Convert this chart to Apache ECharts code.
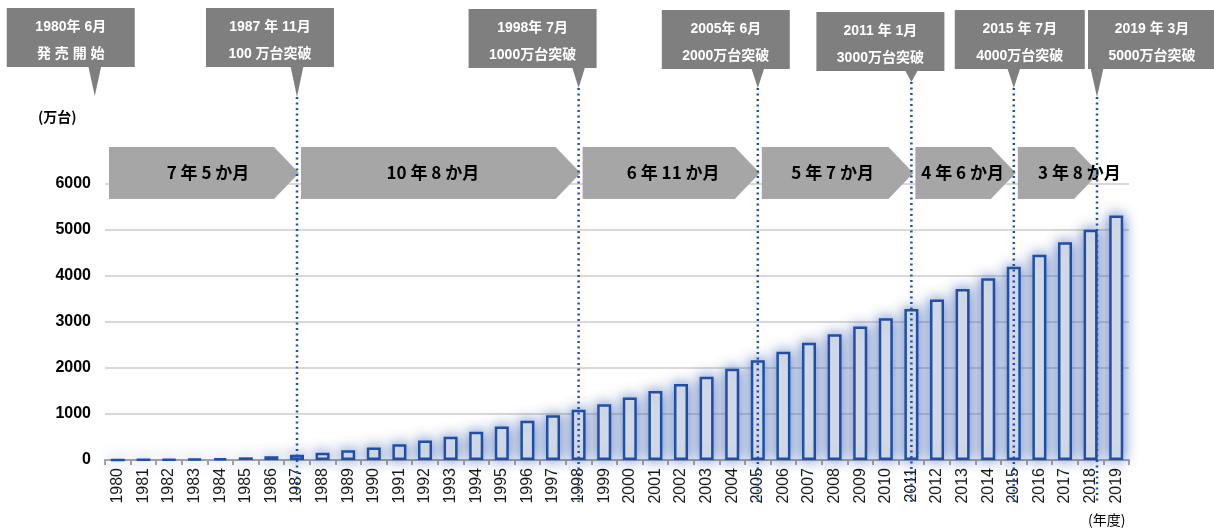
<!DOCTYPE html>
<html><head><meta charset="utf-8">
<script src="https://cdn.jsdelivr.net/npm/echarts@6.0.0/dist/echarts.min.js"></script>
<style>html,body{margin:0;padding:0;background:#fff}#c{width:1214px;height:528px}</style>
</head><body><div id="c"></div>
<script>
// ---- data ----
const years = ['1980','1981','1982','1983','1984','1985','1986','1987','1988','1989',
  '1990','1991','1992','1993','1994','1995','1996','1997','1998','1999',
  '2000','2001','2002','2003','2004','2005','2006','2007','2008','2009',
  '2010','2011','2012','2013','2014','2015','2016','2017','2018','2019'];
const units = [2,6,12,22,38,58,82,112,158,212,
  272,343,423,505,613,729,853,972,1090,1213,
  1357,1502,1653,1812,1986,2166,2354,2549,2736,2902,
  3082,3282,3487,3719,3950,4202,4462,4736,5003,5313];
const yMin = 0, yMax = 6000, yStep = 1000;
const milestoneYears = ['1980','1987','1998','2005','2011','2015','2018'];
const milestoneDates = ['1980年 6月','1987 年 11月','1998年 7月','2005年 6月','2011 年 1月','2015 年 7月','2019 年 3月'];
const milestoneTexts = ['発 売 開 始','100 万台突破','1000万台突破','2000万台突破','3000万台突破','4000万台突破','5000万台突破'];
const intervalLabels = ['7 年 5 か月','10 年 8 か月','6 年 11 か月','5 年 7 か月','4 年 6 か月','3 年 8 か月'];
const yUnit = '(万台)';
const xUnit = '(年度)';

// ---- layout (pixels / styles) ----
const milestoneShift = [-0.9, 0, 0, 0, 0, 0, 0.25]; // in category widths
const calloutBoxRel = [-88, -91, -110, -96, -95, -59, -9];
const calloutBoxTop = [8, 8, 9, 10, 12, 10, 10];
const calloutTipY = [96, 97, 88, 88, 82, 88, 97];
const calloutW = [128, 128, 128, 128, 128, 130, 128];
const calloutH = 59;
const arrowTop = 147, arrowBot = 199, arrowDepth = 25;
const arrowTextDx = [4, -8, 2, -5, -3, 21];
const LATIN = '"Liberation Sans",Arial,sans-serif';
const CJK = '"Liberation Sans","Noto Sans CJK JP",sans-serif';

const chart = echarts.init(document.getElementById('c'));
chart.setOption({
  animation: false,
  backgroundColor: '#fff',
  grid: {left: 105, right: 85, top: 184, bottom: 68},
  xAxis: {
    type: 'category', data: years,
    axisLine: {lineStyle: {color: '#a6a6a6', width: 2}},
    axisTick: {show: true, length: 5, lineStyle: {color: '#a6a6a6', width: 2}},
    axisLabel: {interval: 0, rotate: 90, margin: 8, fontSize: 16, fontFamily: LATIN, color: '#1a1a1a'}
  },
  yAxis: {
    type: 'value', min: yMin, max: yMax, interval: yStep,
    axisLine: {show: false}, axisTick: {show: false},
    axisLabel: {margin: 14, fontSize: 16, fontWeight: 'bold', fontFamily: LATIN, color: '#000',
      formatter: v => String(v)},
    splitLine: {lineStyle: {color: '#d9d9d9', width: 2}}
  },
  series: [{
    type: 'bar', data: units, barWidth: 14,
    itemStyle: {color: '#f2f2f2', borderColor: '#1f4fa8', borderWidth: 2.5,
      shadowBlur: 14, shadowColor: 'rgba(40,80,170,0.75)'}
  }]
});

function px(cat) { return chart.convertToPixel({xAxisIndex: 0}, cat); }
const band = px(years[1]) - px(years[0]);
const axisStart = px(years[0]) - band / 2;
const anchors = milestoneYears.map((y, i) => px(y) + milestoneShift[i] * band);

const g = [];
for (let i = 0; i < intervalLabels.length; i++) {
  const s = i === 0 ? axisStart + 4 : anchors[i] + 4;
  const t = anchors[i + 1] + 2;
  const mid = (arrowTop + arrowBot) / 2;
  g.push({type: 'polygon', z: 10, shape: {points: [[s, arrowTop], [t - arrowDepth, arrowTop], [t, mid], [t - arrowDepth, arrowBot], [s, arrowBot]]},
    style: {fill: '#a6a6a6'}});
  g.push({type: 'text', z: 12, x: (s + t) / 2 + arrowTextDx[i], y: mid,
    style: {text: intervalLabels[i], fill: '#000', font: 'bold 17px "Noto Sans CJK JP",sans-serif',
      align: 'center', verticalAlign: 'middle', textAlign: 'center', textVerticalAlign: 'middle'}});
}
for (let i = 0; i < milestoneYears.length; i++) {
  const x = anchors[i];
  const bx = x + calloutBoxRel[i];
  const by = calloutBoxTop[i];
  g.push({type: 'rect', z: 30, shape: {x: bx, y: by, width: calloutW[i], height: calloutH}, style: {fill: '#7f7f7f'}});
  g.push({type: 'polygon', z: 30, shape: {points: [[x - 6.5, by + calloutH - 1], [x + 6.5, by + calloutH - 1], [x, calloutTipY[i]]]}, style: {fill: '#7f7f7f'}});
  g.push({type: 'text', z: 31, x: bx + calloutW[i] / 2, y: by + 19,
    style: {text: milestoneDates[i], fill: '#fff', font: 'bold 14px ' + CJK,
      align: 'center', verticalAlign: 'middle', textAlign: 'center', textVerticalAlign: 'middle'}});
  g.push({type: 'text', z: 31, x: bx + calloutW[i] / 2, y: by + 46,
    style: {text: milestoneTexts[i], fill: '#fff', font: 'bold 14px ' + CJK,
      align: 'center', verticalAlign: 'middle', textAlign: 'center', textVerticalAlign: 'middle'}});
  if (i > 0) {
    g.push({type: 'polyline', z: 20, shape: {points: [[x, calloutTipY[i]], [x, 502]]},
      style: {stroke: '#2050b0', lineWidth: 2.5, lineDash: [2, 3.5], fill: null}});
  }
}
g.push({type: 'text', z: 5, x: 38, y: 117, style: {text: yUnit, fill: '#000', font: 'bold 14px "Noto Sans CJK JP",sans-serif', verticalAlign: 'middle', textVerticalAlign: 'middle'}});
g.push({type: 'text', z: 5, x: 1088, y: 520, style: {text: xUnit, fill: '#000', font: '14px "Noto Sans CJK JP",sans-serif', verticalAlign: 'middle', textVerticalAlign: 'middle'}});
chart.setOption({graphic: {elements: g}});
</script></body></html>
